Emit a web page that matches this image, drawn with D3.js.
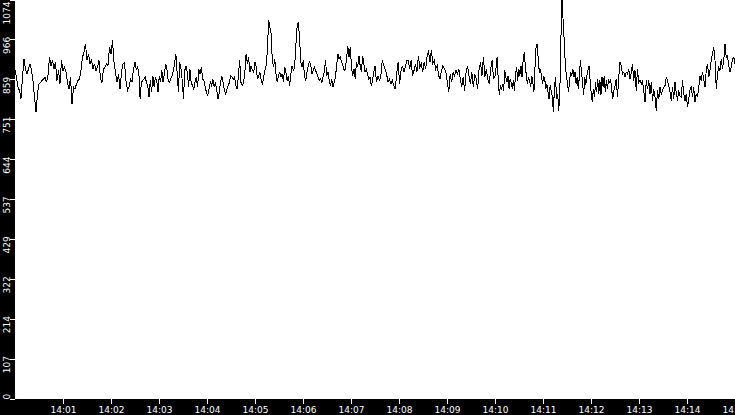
<!DOCTYPE html>
<html>
<head>
<meta charset="utf-8">
<script src="https://cdn.jsdelivr.net/npm/d3@7"></script>
<style>
  body { margin: 0; background: #fff; }
  svg { display: block; }
</style>
</head>
<body>
<div id="app"></div>
<script>
const width = 735;
const height = 415;

// each segment covers 150 s
const segStarts = ["14:00:00", "14:02:30", "14:05:00", "14:07:30", "14:10:00", "14:12:30"];
const segSeconds = 150;

const seg0 = [883,865,838,829,807,865,914,887,874,887,901,883,856,811,770,820,847,851,856,860,
  865,851,869,919,896,910,887,905,856,883,847,910,883,892,878,851,833,865,793,838,
  833,847,856,860,883,919,932,955,910,928,901,910,887,901,883,892,910,860,851,887,
  892,901,896,946,928,964,905,878,851,874,833,878,901,905,856,829,838,860,851,887];
const seg1 = [905,887,892,878,807,851,856,860,865,851,842,811,856,824,869,838,865,856,824,869,
  851,883,851,874,901,887,856,851,860,869,883,901,928,878,824,905,887,856,807,883,
  896,878,838,887,851,842,833,851,865,838,887,874,892,860,856,838,824,815,833,851,
  842,860,838,851,829,807,824,851,869,851,829,820,833,842,851,869,865,860,865,842,
  833,869,910,851,842,851,874,928,901,919,878,896,883,878];
const seg2 = [906,892,860,869,878,856,847,865,883,896,937,1018,1000,982,910,892,914,874,851,869,
  878,865,874,851,892,878,856,869,842,874,896,883,892,950,1000,1014,973,906,892,910,
  869,856,878,896,906,901,874,883,892,883,874,865,856,860,851,865,878,910,869,878,
  856,842,860,838,851,865,896,928,914,919,906,896,883,887,914,950,919,946,892,869,
  887,860,906,892,923,896,878,923,901,878,887,874,860,865,842,856,878];
const seg3 = [896,851,869,856,865,910,896,887,874,851,860,847,856,842,833,874,905,847,883,896,
  878,892,910,910,887,910,869,883,901,878,923,892,901,878,905,887,919,937,905,937,
  901,910,887,896,869,860,883,896,887,878,851,824,874,851,878,869,883,874,887,860,
  838,865,829,878,896,869,847,878,838,874,860,833,887,905,869,919,865,887,860,847,
  887,910,860];
const seg4 = [869,892,919,856,816,843,834,843,829,883,865,851,869,834,860,851,834,856,829,874,
  892,856,887,869,896,865,910,932,896,869,847,865,856,838,869,851,825,892,946,955,
  914,878,883,869,847,869,860,834,847,825,807,843,829,811,771,838,865,807,820,775,
  829,973,1074,1018,964,901,869,851,825,856,878,869,887,865,878,847,865,834,865,910,
  878,851,816,865,843,869,883,896,856,820,798,834,811,851,825,860,820,856,816,865,
  838,869,825,856,834,856,851,860,829,807,829];
const seg5 = [842,860,811,865,905,896,874,878,865,878,874,887,860,878,901,856,883,829,887,851,
  856,847,856,829,797,856,833,856,820,851,802,833,811,775,829,806,838,820,829,838,
  842,865,856,842,824,802,838,806,851,824,802,829,815,811,856,820,802,820,784,806,
  829,842,811,838,797,820,811,838,869,856,878,860,838,883,901,865,883,910,928,946,
  910,833,874,892,883,914,887,910,955,919,923,896,878,892,914,919,901];

const yMax = 1074;
const yTickLabels = ["0", "107", "214", "322", "429", "537", "644", "751", "859", "966", "1074"];
const xTickLabels = ["14:01", "14:02", "14:03", "14:04", "14:05", "14:06", "14:07", "14:08",
  "14:09", "14:10", "14:11", "14:12", "14:13", "14:14", "14:15"];

const parseTime = d3.timeParse("%H:%M:%S");
const parseMinute = d3.timeParse("%H:%M");

const segments = [seg0, seg1, seg2, seg3, seg4, seg5];
const points = [];
segments.forEach((seg, k) => {
  const t0 = parseTime(segStarts[k]);
  const n = k === segments.length - 1 ? seg.length - 1 : seg.length;
  seg.forEach((v, i) => {
    points.push({ t: new Date(+t0 + (i * segSeconds * 1000) / n), v: v });
  });
});

const svg = d3
  .select("#app")
  .append("svg")
  .attr("width", width)
  .attr("height", height);

const x = d3
  .scaleTime()
  .domain([parseTime("14:00:00"), parseTime("14:15:00")])
  .range([15, width]);

const y = d3.scaleLinear().domain([0, yMax]).range([398.5, -0.5]);

svg.append("rect").attr("width", width).attr("height", height).attr("fill", "#fff");

// black frames for the axes
svg.append("rect").attr("x", 0).attr("y", 0).attr("width", 15).attr("height", height).attr("fill", "#000");
svg.append("rect").attr("x", 0).attr("y", 399).attr("width", width).attr("height", height - 399).attr("fill", "#000");

const line = d3
  .line()
  .x((d) => x(d.t))
  .y((d) => y(d.v));

svg
  .append("path")
  .datum(points)
  .attr("d", line)
  .attr("fill", "none")
  .attr("stroke", "#000")
  .attr("stroke-width", 1)
  .attr("shape-rendering", "crispEdges");

const xAxis = d3
  .axisBottom(x)
  .tickValues(xTickLabels.map(parseMinute))
  .tickSize(5)
  .tickFormat((d, i) => xTickLabels[i]);

const gx = svg.append("g").attr("transform", "translate(0,399)").call(xAxis);
gx.select(".domain").remove();
gx.selectAll(".tick line").attr("stroke", "#fff").attr("shape-rendering", "crispEdges");
gx.selectAll(".tick text")
  .attr("fill", "#fff")
  .attr("font-family", "DejaVu Sans")
  .attr("font-size", 9);

const yAxis = d3
  .axisLeft(y)
  .tickValues(yTickLabels.map((_, i) => (yMax * i) / 10))
  .tickSize(5)
  .tickFormat((d, i) => yTickLabels[i]);

const gy = svg.append("g").attr("transform", "translate(15,0)").call(yAxis);
gy.select(".domain").remove();
gy.selectAll(".tick line").attr("stroke", "#fff").attr("shape-rendering", "crispEdges");
gy.selectAll(".tick text")
  .attr("fill", "#fff")
  .attr("font-family", "DejaVu Sans")
  .attr("font-size", 9)
  .attr("text-anchor", "middle")
  .attr("dy", null)
  .attr("transform", "rotate(-90)")
  .attr("y", -5)
  .each(function (d) {
    // keep labels inside the strip, like the original
    const ty = y(d);
    const half = this.getComputedTextLength() / 2;
    const c = Math.max(half + 1, Math.min(399 - half, ty + 5.5));
    d3.select(this).attr("x", -(c - ty));
  });
</script>
</body>
</html>
